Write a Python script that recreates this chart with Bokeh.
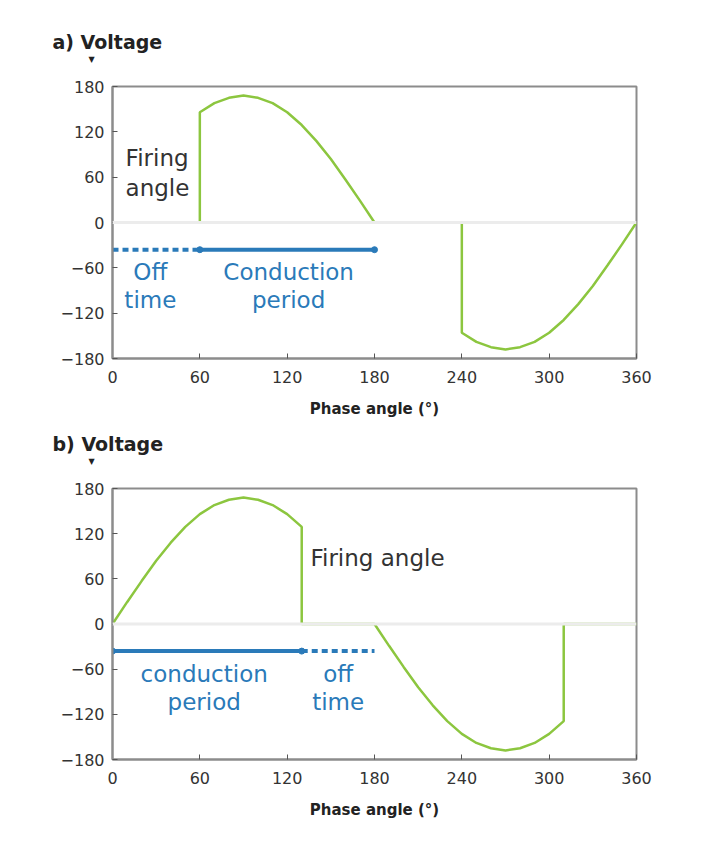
from bokeh.plotting import figure
from bokeh.models import Label, FixedTicker, Range1d, Span, Title
from bokeh.layouts import column
from bokeh.embed import file_html
from bokeh.resources import INLINE

# ---- data ----
x_ticks = [0, 60, 120, 180, 240, 300, 360]
y_ticks = [-180, -120, -60, 0, 60, 120, 180]

# (a) leading-edge phase control: firing at 60 deg
a_angle = [0, 60, 60, 70, 80, 90, 100, 110, 120, 130, 140, 150, 160, 170, 180,
           240, 240, 250, 260, 270, 280, 290, 300, 310, 320, 330, 340, 350, 360]
a_volt = [0, 0, 146, 158, 165, 168, 165, 158, 146, 129, 108, 84, 57, 29, 0,
          0, -146, -158, -165, -168, -165, -158, -146, -129, -108, -84, -57, -29, 0]

# (b) trailing-edge phase control: cut at 130 deg
b_angle = [0, 10, 20, 30, 40, 50, 60, 70, 80, 90, 100, 110, 120, 130, 130,
           180, 190, 200, 210, 220, 230, 240, 250, 260, 270, 280, 290, 300, 310, 310, 360]
b_volt = [0, 29, 57, 84, 108, 129, 146, 158, 165, 168, 165, 158, 146, 129, 0,
          0, -29, -57, -84, -108, -129, -146, -158, -165, -168, -165, -158, -146, -129, 0, 0]

a_off = [0, 60]
a_cond = [60, 180]
b_cond = [0, 130]
b_off = [130, 180]
bar_level = -36

GREEN = "#8cc63f"
BLUE = "#2a7ab9"
GRAY = "#8c8c8c"
FONT = "DejaVu Sans"
TXT = "23px"


def make_panel(title, angle, volt, solid, dashed, top_border, bottom_border, height):
    p = figure(width=698, height=height, output_backend="svg", toolbar_location=None,
               x_range=Range1d(0, 360), y_range=Range1d(-180, 180),
               min_border_left=112, min_border_right=62,
               min_border_top=top_border, min_border_bottom=bottom_border)
    p.grid.visible = False
    p.outline_line_color = GRAY
    p.outline_line_width = 2
    p.background_fill_color = "white"
    p.border_fill_color = "white"

    for ax in (p.xaxis[0], p.yaxis[0]):
        ax.axis_line_color = GRAY
        ax.axis_line_width = 2
        ax.major_tick_in = 5
        ax.major_tick_out = 0
        ax.major_tick_line_color = "#555555"
        ax.minor_tick_line_color = None
        ax.major_label_text_font = FONT
        ax.major_label_text_font_size = "16px"
        ax.major_label_text_color = "#333333"
    p.xaxis.ticker = FixedTicker(ticks=x_ticks)
    p.yaxis.ticker = FixedTicker(ticks=y_ticks)
    p.xaxis.major_label_standoff = 12
    p.yaxis.major_label_standoff = 8
    p.xaxis.axis_label = "Phase angle (°)"
    p.xaxis.axis_label_text_font = FONT
    p.xaxis.axis_label_text_font_style = "bold"
    p.xaxis.axis_label_text_font_size = "15px"
    p.xaxis.axis_label_text_color = "#222222"
    p.xaxis.axis_label_standoff = 14

    p.add_layout(Span(location=0, dimension="width", line_color="#ececec", line_width=3))

    p.line(angle, volt, line_color=GREEN, line_width=2.5)

    # blue conduction / off-time bars
    p.line(solid, [bar_level, bar_level], line_color=BLUE, line_width=4)
    p.line(dashed, [bar_level, bar_level], line_color=BLUE, line_width=4, line_dash="6 4")
    p.scatter(solid, [bar_level, bar_level], size=6, color=BLUE)

    # title block above the frame (closest to frame added first)
    p.add_layout(Title(text=" ", align="left", standoff=0,
                       text_font=FONT, text_font_size="18px"), "above")
    p.add_layout(Title(text="▼", align="left", offset=-24, standoff=0,
                       text_font=FONT, text_font_size="8px",
                       text_color="#222222"), "above")
    p.add_layout(Title(text=title, align="left", offset=-60, standoff=0,
                       text_font=FONT, text_font_size="19px", text_font_style="bold",
                       text_color="#222222"), "above")
    return p


def note(p, txt, x, y, color, align="center"):
    p.add_layout(Label(x=x, y=y, text=txt, text_font=FONT, text_font_size=TXT,
                       text_color=color, text_align=align, text_baseline="middle"))


p1 = make_panel("a) Voltage", a_angle, a_volt, a_cond, a_off, 86, 62, 420)
note(p1, "Firing", 9, 86, "#333333", "left")
note(p1, "angle", 9, 46, "#333333", "left")
note(p1, "Off", 26, -66, BLUE)
note(p1, "time", 26, -103, BLUE)
note(p1, "Conduction", 121, -66, BLUE)
note(p1, "period", 121, -103, BLUE)

p2 = make_panel("b) Voltage", b_angle, b_volt, b_cond, b_off, 68, 70, 409)
note(p2, "Firing angle", 136, 88, "#333333", "left")
note(p2, "conduction", 63, -66, BLUE)
note(p2, "period", 63, -103, BLUE)
note(p2, "off", 155, -66, BLUE)
note(p2, "time", 155, -103, BLUE)

layout = column(p1, p2, spacing=0)
open("out.html", "w").write(file_html(layout, INLINE))
